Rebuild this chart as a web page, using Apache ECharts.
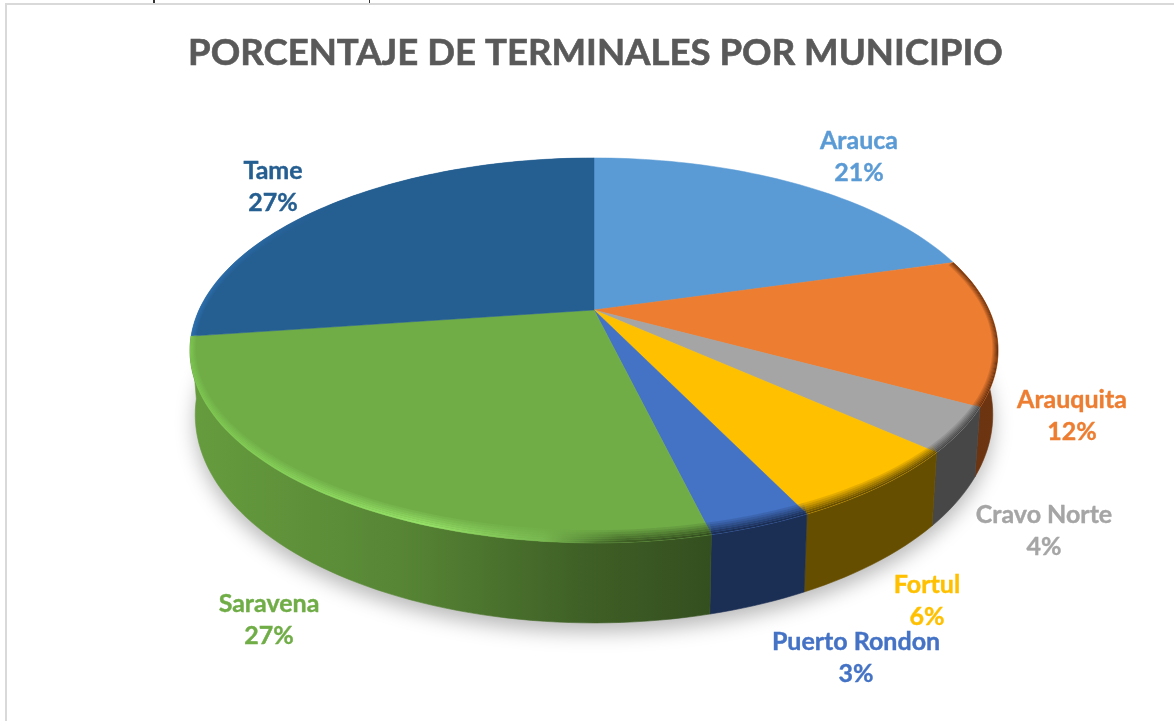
<!DOCTYPE html>
<html>
<head>
<meta charset="utf-8">
<style>html,body{margin:0;padding:0;background:#fff}#c{width:1174px;height:721px}</style>
<script src="https://cdn.jsdelivr.net/npm/echarts@6/dist/echarts.min.js"></script>
</head>
<body>
<div id="c"></div>
<script>
const titleText = 'PORCENTAJE DE TERMINALES POR MUNICIPIO';
const categories = ['Arauca','Arauquita','Cravo Norte','Fortul','Puerto Rondon','Saravena','Tame'];
const values = [20.6, 12.3, 3.7, 6.2, 3.4, 26.6, 27.2];
const topColors = ['#5b9bd5','#ed7d31','#a5a5a5','#ffc000','#4472c4','#70ad47','#255e91'];
const labelCenters = [[859,157],[1072,416],[1044,531],[927,601],[856,658],[269,620],[273,187]];

const chart = echarts.init(document.getElementById('c'));
const G = echarts.graphic;
const total = values.reduce((a,b)=>a+b,0);
const starts = []; values.reduce((a,b,i)=>{starts[i]=a;return a+b;},0);

// perspective disc
const cx=594, cy=310, A=395, B=184, P=0.21;
const rad = d => d*Math.PI/180;
function rim(deg){
  const u=Math.sin(rad(deg)), v=-Math.cos(rad(deg)), w=1-P*v;
  return {x:cx+A*u/w, y:cy+B*v/w, v};
}
function inner(deg,f){
  const p=rim(deg);
  return [cx+(p.x-cx)*(1-f*0.014), cy+(p.y-cy)*(1-f*0.055)];
}
function floor(deg){
  const p=rim(deg);
  return [cx+(p.x-cx)*0.987, p.y+60+20*p.v];
}
function arc(a,b,fn){
  const n=Math.max(2,Math.ceil(Math.abs(b-a)/1.5)), out=[];
  for(let i=0;i<=n;i++) out.push(fn(a+(b-a)*i/n));
  return out;
}
const grad=(stops)=>new G.LinearGradient(190,0,712,0,stops.map((c)=>({offset:c[0],color:c[1]})),true);
const wallFill=[null,
  new G.LinearGradient(890,0,1000,0,[{offset:0,color:'#66300f'},{offset:1,color:'#6e3511'}],true),
  '#474747','#664e00','#1b2e54',
  grad([[0,'#669c3e'],[.4,'#578635'],[.75,'#3f6026'],[1,'#344f1f']]),
  null];
const bandFill=[null,'#66300f','#474747','#664e00','#1b2e54',
  grad([[0,'#7cc650'],[.45,'#96e268'],[.68,'#78b850'],[.82,'#3f6026'],[1,'#344f1f']]),
  new G.LinearGradient(190,0,330,0,[{offset:0,color:'#2d72b4'},{offset:1,color:'#255e91'}],true)];

function renderSlice(params, api){
  const i=params.dataIndex, val=api.value(0);
  const a=starts[i]/total*360, b=a+val/total*360;
  const kids=[];
  // side wall
  if(wallFill[i]){
    const s=Math.max(a,80), e=Math.min(b,280);
    if(e>s){
      const t=arc(s,e,d=>{const p=rim(d);return [p.x,p.y];});
      const f=arc(e,s,floor);
      kids.push({type:'polygon',z2:1,shape:{points:t.concat(f)},
        style:{fill:wallFill[i],stroke:wallFill[i],lineWidth:.6}});
    }
  }
  // top face
  const top=[[cx,cy]].concat(arc(a,b,d=>{const p=rim(d);return [p.x,p.y];}));
  kids.push({type:'polygon',z2:10,shape:{points:top},
    style:{fill:topColors[i],stroke:topColors[i],lineWidth:.5}});
  // bevel
  if(bandFill[i]){
    const N=6;
    for(let k=0;k<N;k++){
      const f0=1-k/N, f1=1-(k+1)/N;
      const o=arc(a,b,d=>inner(d,f0)), q=arc(b,a,d=>inner(d,f1));
      kids.push({type:'polygon',z2:11+k,shape:{points:o.concat(q)},
        style:{fill:bandFill[i],opacity:(k+1)/N}});
    }
  }
  // label
  const c=labelCenters[i];
  kids.push({type:'text',z2:50,x:c[0],y:c[1],
    style:{text:categories[i]+'\n'+Math.round(val/total*100)+'%',
      fill:topColors[i],stroke:topColors[i],lineWidth:.4,font:'bold 25px Lato',textAlign:'center',textVerticalAlign:'middle',lineHeight:32}});
  return {type:'group',children:kids};
}
function renderShadow(){
  return {type:'polygon',z2:0,shape:{points:arc(0,360,floor)},
    style:{fill:'#cfcfcf',shadowColor:'rgba(0,0,0,0.28)',shadowBlur:20,shadowOffsetY:9,shadowOffsetX:0}};
}
const bar=(x,y,w,h,fill)=>({type:'rect',shape:{x,y,width:w,height:h},style:{fill}});
chart.setOption({
  animation:false,
  backgroundColor:'#fff',
  title:{text:titleText,left:590.5,top:30,textAlign:'center',
    textStyle:{fontFamily:'Lato',fontWeight:'bold',fontSize:36.6,color:'#595959',textBorderColor:'#595959',textBorderWidth:.6}},
  graphic:[bar(5,3,1169,2,'#d9d9d9'),bar(5,3,2,718,'#d9d9d9'),bar(153,0,2,3,'#333'),bar(369,0,1,3,'#333')],
  series:[
    {type:'custom',coordinateSystem:'none',silent:true,z:1,renderItem:renderShadow,data:[[total]]},
    {type:'custom',coordinateSystem:'none',silent:true,z:2,renderItem:renderSlice,data:values.map(v=>[v])}
  ]
});
</script>
</body>
</html>
